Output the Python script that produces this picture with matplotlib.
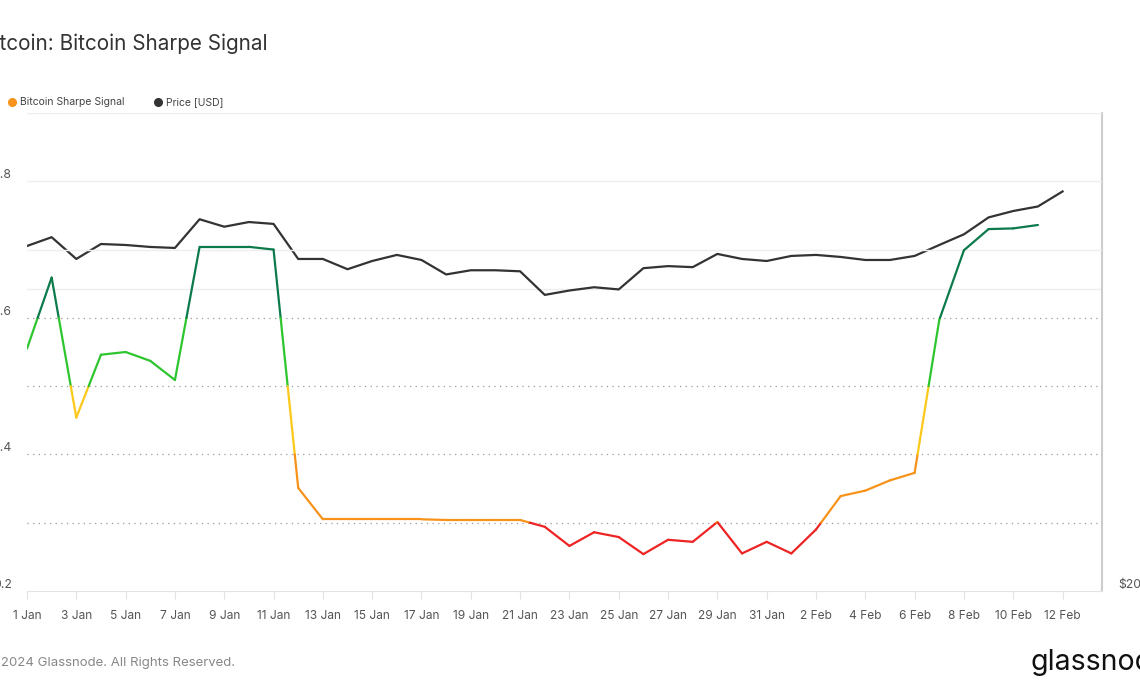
import numpy as np
import pandas as pd
import matplotlib
matplotlib.use('Agg')
import matplotlib.pyplot as plt
import matplotlib.dates as mdates
from matplotlib.collections import LineCollection
from matplotlib.lines import Line2D
from matplotlib.ticker import NullLocator

plt.rcParams['font.family'] = ['Inter', 'DejaVu Sans']

# ---- data ----
dates = pd.date_range('2024-01-01', '2024-02-12', freq='D')

sharpe_signal = [0.555, 0.659, 0.454, 0.546, 0.550, 0.537, 0.509, 0.704, 0.704, 0.704,
                 0.700, 0.351, 0.305, 0.305, 0.305, 0.305, 0.305, 0.304, 0.304, 0.304,
                 0.304, 0.294, 0.266, 0.286, 0.279, 0.254, 0.275, 0.272, 0.301, 0.255,
                 0.272, 0.255, 0.290, 0.339, 0.347, 0.362, 0.373, 0.597, 0.699, 0.730,
                 0.731, 0.736]

price_usd = [44200, 45100, 42900, 44400, 44300, 44100, 44000, 47000, 46200, 46700,
             46500, 42900, 42900, 41900, 42700, 43300, 42800, 41400, 41800, 41800,
             41700, 39500, 39900, 40200, 40000, 42000, 42200, 42100, 43400, 42900,
             42700, 43200, 43300, 43100, 42800, 42800, 43200, 44300, 45400, 47200,
             47900, 48400, 50100]

# signal bands: thresholds and colours (low -> high)
thresholds = [0.3, 0.4, 0.5, 0.6]
band_colors = ['#ee2424', '#f7931a', '#fcc81a', '#2ec52e', '#0d7a4c']

series_names = ['Bitcoin Sharpe Signal', 'Price [USD]']
series_colors = ['#f7931a', '#333333']

left_ticks = [0.2, 0.4, 0.6, 0.8]
right_ticks = [20000]
right_labels = ['$20k']


def band_color(v):
    return band_colors[int(np.searchsorted(thresholds, v))]


def split_by_threshold(xs, ys):
    # cut each segment where it crosses a threshold, colour pieces by band
    segs, cols = [], []
    for i in range(len(xs) - 1):
        x0, y0, x1, y1 = xs[i], ys[i], xs[i + 1], ys[i + 1]
        cuts = [t for t in thresholds if min(y0, y1) < t < max(y0, y1)]
        cuts = sorted(cuts, reverse=(y1 < y0))
        pts = [(x0, y0)]
        for t in cuts:
            pts.append((x0 + (t - y0) / (y1 - y0) * (x1 - x0), t))
        pts.append((x1, y1))
        for a, b in zip(pts[:-1], pts[1:]):
            segs.append([a, b])
            cols.append(band_color((a[1] + b[1]) / 2))
    return segs, cols


fig = plt.figure(figsize=(11.4, 6.94), dpi=100)
ax = fig.add_axes([27 / 1140, 1 - 591 / 694, (1102 - 27) / 1140, (591 - 113) / 694])
ax2 = ax.twinx()

xnum = mdates.date2num(dates)

# price (right, log)
ax2.plot(xnum, price_usd, color=series_colors[1], lw=1.6, solid_joinstyle='round', zorder=3)
ax2.set_yscale('log')
ax2.set_ylim(20000, 60000)
ax2.axhline(40000, color='#eeeeee', lw=1, zorder=0)

# signal (left)
segs, cols = split_by_threshold(xnum[:len(sharpe_signal)], sharpe_signal)
lc = LineCollection(segs, colors=cols, linewidths=1.6, capstyle='round', joinstyle='round', zorder=3)
ax.add_collection(lc)
ax.set_ylim(0.2, 0.9)
ax.set_xlim(xnum[0], xnum[0] + 43.6)

for v in [0.7, 0.8, 0.9]:
    ax.axhline(v, color='#eeeeee', lw=1, zorder=0)
for t in thresholds:
    ax.axhline(t, color='#9a9a9a', lw=0.9, linestyle=(0, (1, 3.5)), zorder=1)

ax.set_zorder(ax2.get_zorder() + 1)
ax.patch.set_visible(False)

# ticks
ax.set_xticks(xnum[::2])
ax.set_xticklabels([f'{d.day} {d.strftime("%b")}' for d in dates[::2]])
ax.tick_params(axis='x', length=6, color='#e3e3e3', pad=8, labelsize=8.6, labelcolor='#555555')

ax.set_yticks(left_ticks)
ax.set_yticklabels([f'{v:.1f}' for v in left_ticks])
ax.tick_params(axis='y', length=0, pad=11, labelsize=8.8, labelcolor='#555555')
for lab in ax.get_yticklabels():
    lab.set_verticalalignment('bottom')

ax2.yaxis.set_minor_locator(NullLocator())
ax2.set_yticks(right_ticks)
ax2.set_yticklabels(right_labels)
ax2.tick_params(axis='y', which='both', length=0, pad=12, labelsize=8.8, labelcolor='#555555')
for lab in ax2.get_yticklabels():
    lab.set_verticalalignment('bottom')

for s in ['left', 'top', 'right']:
    ax.spines[s].set_visible(False)
ax.spines['bottom'].set_color('#e3e3e3')
for s in ['left', 'top', 'bottom']:
    ax2.spines[s].set_visible(False)
ax2.spines['right'].set_color('#cccccc')
ax2.spines['right'].set_linewidth(1.5)

# title, legend, footer (page is cropped at the left/right edges, as in the source)
fig.text(-19 / 1140, 1 - 44 / 694, 'Bitcoin: Bitcoin Sharpe Signal', fontsize=14.9,
         color='#333333', va='center', ha='left')

leg_x = [12, 158]
for lx, name, c in zip(leg_x, series_names, series_colors):
    fig.add_artist(Line2D([lx / 1140], [1 - 102 / 694], marker='o', markersize=5.5,
                          color=c, linestyle='none', transform=fig.transFigure))
    fig.text((lx + 8) / 1140, 1 - 102 / 694, name, fontsize=7.5, color='#444444',
             va='center', ha='left')

fig.text(-15 / 1140, 1 - 663 / 694, '\u00a9 2024 Glassnode. All Rights Reserved.',
         fontsize=9.5, color='#888888', va='center', ha='left')
fig.text(1030 / 1140, 1 - 662 / 694, 'glassnode', fontsize=20.5, color='#111111',
         va='center', ha='left')

fig.savefig('out.png', dpi=100)
